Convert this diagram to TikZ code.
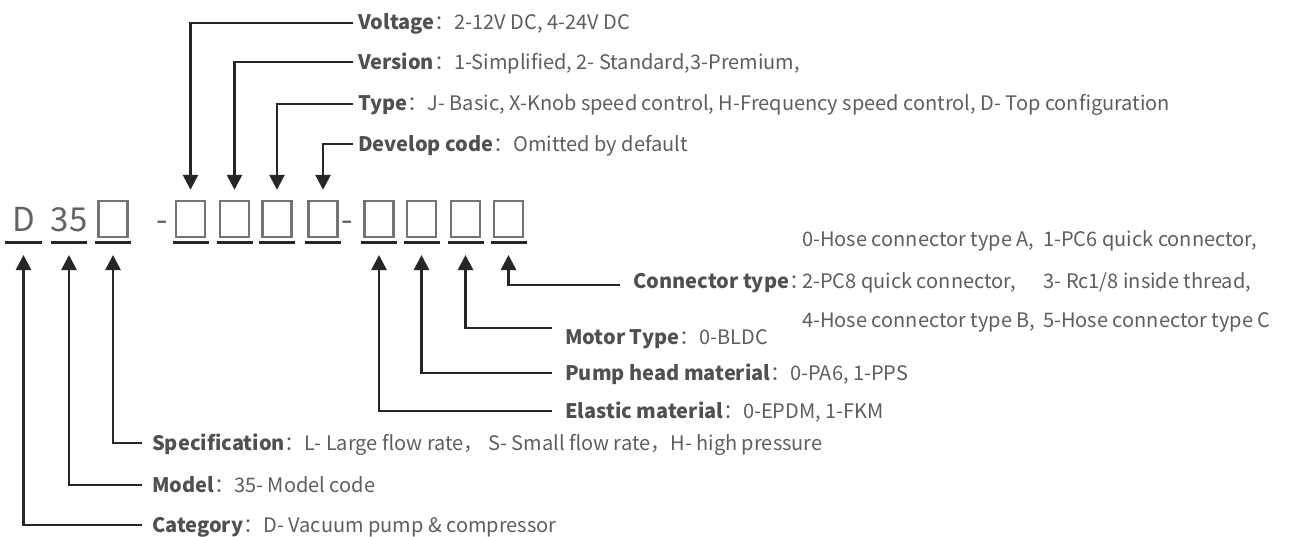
\documentclass[tikz,border=0pt]{standalone}
\usepackage{fontspec}
\setmainfont{Noto Sans CJK SC}
\usetikzlibrary{arrows.meta,calc}
\definecolor{txt}{HTML}{5E5E5E}
\definecolor{lbl}{HTML}{505050}
\definecolor{ln}{HTML}{262626}
\definecolor{boxc}{HTML}{747474}
\definecolor{codec}{HTML}{626262}
\newlength\colA
\newlength\colB
\newcommand\labfont{\fontsize{20}{24}\selectfont}
\newcommand\tcolon{：\hspace{-7pt}}
\begin{document}
\settowidth{\colA}{\labfont 0-Hose connector type A,\ \ }
\settowidth{\colB}{\labfont 2-PC8 quick connector,}
\addtolength{\colB}{28pt}
\begin{tikzpicture}[x=1pt,y=-1pt,
  conn/.style={draw=ln,line width=2.6pt,-{Triangle[width=15pt,length=15pt]}},
  lab/.style={anchor=base west,inner sep=0pt,text=txt,font=\labfont},
  code/.style={anchor=base,inner sep=0pt,text=codec,font=\fontsize{33}{40}\selectfont},
  uline/.style={draw=ln,line width=3pt},
  slot/.style={draw=boxc,line width=2.4pt,minimum width=29pt,minimum height=36pt,inner sep=0pt}
]
\fill[white] (0,0) rectangle (1289,537);
\useasboundingbox (0,0) rectangle (1289,537);

% code row
\node[code] (cD) at (23.5,232) {D};
\node[code] (c35) at (69,232) {35};
\node[code] (dash1) at (162,232) {-};
\node[code] (dash2) at (347.5,232) {-};
\foreach \n/\x in {1/113,2/190.5,3/234.5,4/277,5/323,6/379,7/421.5,8/465.5,9/508.5}{
  \node[slot] (s\n) at (\x,219) {};
  \coordinate (u\n) at (\x,243);
  \draw[uline] (\x-18,243) -- (\x+18,243);
}
\coordinate (uD) at (23.5,243);
\coordinate (u35) at (69,243);
\draw[uline] (5,243) -- (42,243);
\draw[uline] (51,243) -- (87,243);

% top labels
\node[lab] (lv) at (358,30) {\textcolor{lbl}{\bfseries Voltage}：2-12V DC, 4-24V DC};
\node[lab] (lr) at (358,70) {\textcolor{lbl}{\bfseries Version}：1-Simplified, 2- Standard,3-Premium,};
\node[lab] (lt) at (358,111) {\textcolor{lbl}{\bfseries Type}：J- Basic, X-Knob speed control, H-Frequency speed control, D- Top configuration};
\node[lab] (ld) at (358,152) {\textcolor{lbl}{\bfseries Develop code}：Omitted by default};

\draw[conn] ($(lv.base west)+(-5,-7)$) -| ([yshift=10pt]s2.north);
\draw[conn] ($(lr.base west)+(-5,-8)$) -| ([yshift=10pt]s3.north);
\draw[conn] ($(lt.base west)+(-5,-7)$) -| ([yshift=10pt]s4.north);
\draw[conn] ($(ld.base west)+(-5,-8)$) -| ([yshift=10pt]s5.north);

% right labels
\node[lab] (lc1) at (633,247) {\phantom{\bfseries Connector type\tcolon}\makebox[\colA][l]{0-Hose connector type A,}1-PC6 quick connector,};
\node[lab] (lc) at (633,288) {\textcolor{lbl}{\bfseries Connector type}\tcolon\makebox[\colB][l]{2-PC8 quick connector,}3- Rc1/8 inside thread,};
\node[lab] (lc3) at (633,327) {\phantom{\bfseries Connector type\tcolon}\makebox[\colA][l]{4-Hose connector type B,}5-Hose connector type C};

\node[lab] (lm) at (565,344) {\textcolor{lbl}{\bfseries Motor Type}：0-BLDC};
\node[lab] (lp) at (565,380) {\textcolor{lbl}{\bfseries Pump head material}：0-PA6, 1-PPS};
\node[lab] (le) at (565,418) {\textcolor{lbl}{\bfseries Elastic material}：0-EPDM, 1-FKM};

\draw[conn] ($(lc.base west)+(-13,-3)$) -| ([yshift=-12pt]u9);
\draw[conn] ($(lm.base west)+(-13,-16)$) -| ([yshift=-12pt]u8);
\draw[conn] ($(lp.base west)+(-13,-7)$) -| ([yshift=-12pt]u7);
\draw[conn] ($(le.base west)+(-13,-7)$) -| ([yshift=-12pt]u6);

% bottom-left labels
\node[lab] (ls) at (152,450) {\textcolor{lbl}{\bfseries Specification}：L- Large flow rate， S- Small flow rate，H- high pressure};
\node[lab] (lmo) at (152,492) {\textcolor{lbl}{\bfseries Model}：35- Model code};
\node[lab] (lca) at (152,532) {\textcolor{lbl}{\bfseries Category}：D- Vacuum pump \& compressor};

\draw[conn] ($(ls.base west)+(-10,-7)$) -| ([yshift=-12pt]u1);
\draw[conn] ($(lmo.base west)+(-10,-7)$) -| ([yshift=-12pt]u35);
\draw[conn] ($(lca.base west)+(-10,-7)$) -| ([yshift=-12pt]uD);
\end{tikzpicture}
\end{document}
